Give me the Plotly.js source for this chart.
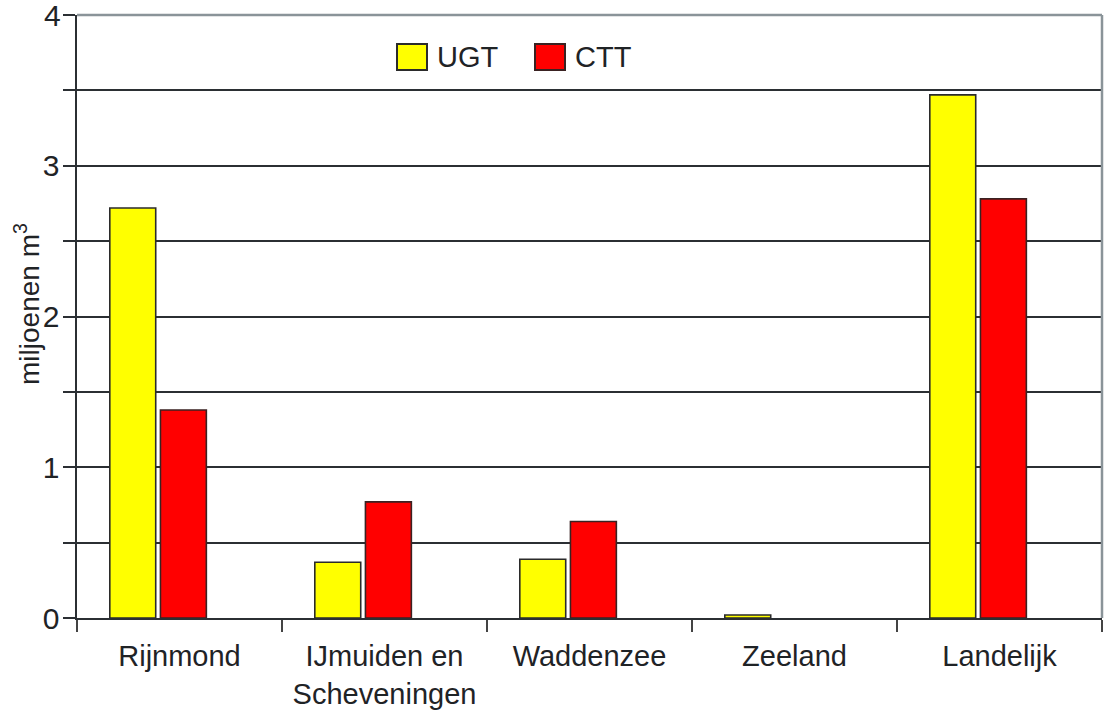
<!DOCTYPE html>
<html>
<head>
<meta charset="utf-8">
<script src="https://cdn.plot.ly/plotly-3.0.1.min.js"></script>
<style>html,body{margin:0;padding:0;background:#fff;}#chart{width:1105px;height:713px;}</style>
</head>
<body>
<div id="chart"></div>
<script>
const categories = ["Rijnmond", "IJmuiden en<br>Scheveningen", "Waddenzee", "Zeeland", "Landelijk"];
const seriesNames = ["UGT", "CTT"];
const ugtValues = [2.72, 0.37, 0.39, 0.02, 3.47];
const cttValues = [1.38, 0.77, 0.64, null, 2.78];
const yTickVals = [0, 1, 2, 3];
const yTickText = ["0", "1", "2", "3"];
const yTopLabel = "4";
const yTitle = "miljoenen m<sup>3</sup>";

const FONT = "Liberation Sans, Arial, sans-serif";
const TXT = "#1f2326";

const traces = [
  {type: "bar", name: seriesNames[0], x: categories, y: ugtValues,
   width: 0.224, offset: -0.34,
   marker: {color: "#ffff00", line: {color: "#2b2b2b", width: 1.6}}, showlegend: false},
  {type: "bar", name: seriesNames[1], x: categories, y: cttValues,
   width: 0.224, offset: -0.093,
   marker: {color: "#ff0000", line: {color: "#3a2222", width: 1.6}}, showlegend: false}
];

const L = 77, R = 1102, T = 15, B = 618;
const px = v => (v - L) / (R - L);
const py = v => (B - v) / (B - T);

const layout = {
  width: 1105, height: 713,
  margin: {l: 77, r: 3, t: 15, b: 95},
  paper_bgcolor: "#fff", plot_bgcolor: "#fff",
  barmode: "overlay",
  font: {family: FONT, size: 30, color: TXT},
  xaxis: {
    type: "category", tickson: "boundaries",
    ticks: "outside", ticklen: 12, tickwidth: 2, tickcolor: "#444",
    showline: true, linecolor: "#2b2f33", linewidth: 2,
    showgrid: false, zeroline: false,
    ticklabelstandoff: 11,
    tickfont: {family: FONT, size: 29, color: TXT},
    range: [-0.5, 4.5]
  },
  yaxis: {
    range: [0, 4], tickvals: yTickVals, ticktext: yTickText,
    ticks: "outside", ticklen: 12, tickwidth: 2, tickcolor: "#2b2f33",
    showline: true, linecolor: "#2b2f33", linewidth: 2.5,
    showgrid: true, gridcolor: "#2b2f33", gridwidth: 2,
    zeroline: false,
    ticklabelstandoff: -3,
    minor: {dtick: 0.5, tick0: 0, ticks: "outside", ticklen: 12, tickwidth: 2, tickcolor: "#2b2f33",
            showgrid: true, gridcolor: "#2b2f33", gridwidth: 2},
    tickfont: {family: FONT, size: 30, color: TXT}
  },
  shapes: [
    {type: "line", xref: "paper", yref: "paper", x0: 0, x1: 1, y0: 1, y1: 1, line: {color: "#8a9499", width: 2.5}},
    {type: "line", xref: "paper", yref: "paper", x0: 1, x1: 1, y0: 1, y1: 0, line: {color: "#8a9499", width: 2.5}},
    {type: "rect", xref: "paper", yref: "paper", x0: px(397), x1: px(427), y0: py(70), y1: py(44),
     fillcolor: "#ffff00", line: {color: "#2b2b2b", width: 2}},
    {type: "rect", xref: "paper", yref: "paper", x0: px(535), x1: px(565), y0: py(70), y1: py(44),
     fillcolor: "#ff0000", line: {color: "#3a2222", width: 2}}
  ],
  annotations: [
    {xref: "paper", yref: "paper", x: px(435), y: py(57), xanchor: "left", yanchor: "middle",
     text: seriesNames[0], showarrow: false, font: {family: FONT, size: 29, color: TXT}},
    {xref: "paper", yref: "paper", x: px(573), y: py(57), xanchor: "left", yanchor: "middle",
     text: seriesNames[1], showarrow: false, font: {family: FONT, size: 29, color: TXT}},
    {xref: "paper", yref: "y", x: 0, y: 4, xanchor: "right", yanchor: "middle", xshift: -14,
     text: yTopLabel, showarrow: false, font: {family: FONT, size: 30, color: TXT}},
    {xref: "paper", yref: "paper", x: px(27), y: py(304), xanchor: "center", yanchor: "middle",
     textangle: -90, text: yTitle, showarrow: false, font: {family: FONT, size: 28, color: TXT}}
  ]
};

Plotly.newPlot("chart", traces, layout, {displayModeBar: false, staticPlot: true});
</script>
</body>
</html>
